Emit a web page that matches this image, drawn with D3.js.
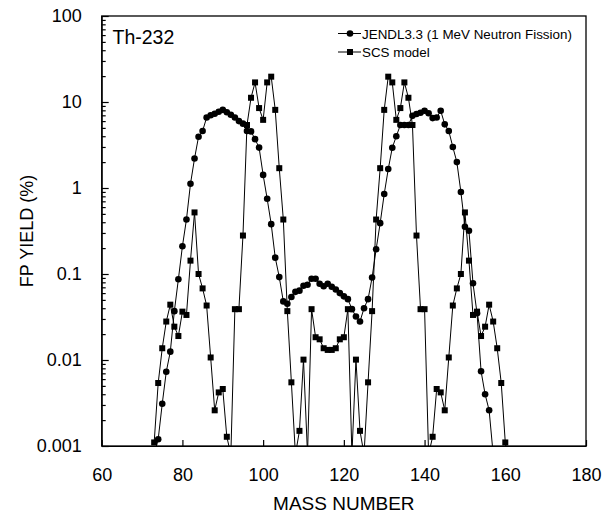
<!DOCTYPE html>
<html>
<head>
<meta charset="utf-8">
<script src="https://cdn.jsdelivr.net/npm/d3@7"></script>
<style>
    body { margin: 0; background: #fff; }
    text { font-family: "Liberation Sans", Arial, sans-serif; }
</style>
</head>
<body>
<div id="chart"></div>
<script>
// FP yield data, one value per mass number. 0.0008 = below the plot bottom.
const jendlStart = 73;
const jendlYield = [
    0.0008, 0.0012, 0.0031, 0.0073, 0.0125, 0.037, 0.087, 0.21, 0.43, 1.12,
    2.2, 3.95, 4.6, 6.6, 7.0, 7.3, 7.7, 8.1, 7.6, 7.1,
    6.6, 6.0, 5.6, 4.6, 4.55, 3.7, 2.95, 1.42, 0.75, 0.38,
    0.155, 0.092, 0.048, 0.045, 0.054, 0.062, 0.064, 0.073, 0.075, 0.088,
    0.088, 0.077, 0.072, 0.077, 0.071, 0.066, 0.060, 0.055, 0.051, 0.039,
    0.032, 0.028, 0.040, 0.051, 0.091, 0.194, 0.39, 0.85, 1.66, 2.94,
    4.0, 5.4, 5.4, 5.4, 6.9, 7.25, 7.5, 7.9, 7.4, 6.5,
    6.6, 7.9, 5.5, 4.6, 3.0, 2.0, 0.90, 0.355, 0.318, 0.078,
    0.035, 0.0074, 0.0040, 0.0026, 0.0008
];

const scsStart = 73;
const scsYield = [
    0.0011, 0.0054, 0.0137, 0.028, 0.044, 0.0244, 0.019, 0.0365, 0.0334, 0.143,
    0.52, 0.10, 0.068, 0.043, 0.0107, 0.0026, 0.0042, 0.0046, 0.00128, 0.0008,
    0.039, 0.039, 0.28, 5.4, 11.2, 16.9, 8.5, 6.2, 16.9, 19.7,
    8.1, 1.7, 0.43, 0.037, 0.0055, 0.0008, 0.0015, 0.0101, 0.0008, 0.039,
    0.0184, 0.0174, 0.0137, 0.0131, 0.0131, 0.0137, 0.0174, 0.0184, 0.039, 0.0008,
    0.0101, 0.0015, 0.0008, 0.0055, 0.037, 0.43, 1.7, 8.1, 19.7, 16.9,
    6.2, 8.5, 16.9, 11.2, 5.4, 0.28, 0.039, 0.039, 0.0008, 0.00128,
    0.0046, 0.0042, 0.0026, 0.0107, 0.043, 0.068, 0.10, 0.52, 0.143, 0.0334,
    0.0365, 0.019, 0.0244, 0.044, 0.028, 0.0137, 0.0054, 0.0011
];

const xTicks = [60, 80, 100, 120, 140, 160, 180];
const yTicks = [0.001, 0.01, 0.1, 1, 10, 100];
const yTickLabels = ["0.001", "0.01", "0.1", "1", "10", "100"];

const seriesNames = ["JENDL3.3 (1 MeV Neutron Fission)", "SCS model"];
const nuclide = "Th-232";

// Pairs of [mass, yield]
const jendl = jendlYield.map((v, i) => [jendlStart + i, v]);
const scs = scsYield.map((v, i) => [scsStart + i, v]);

// Canvas and plot box.
const w = 607, h = 517;
const plotLeft = 101.7, plotRight = 586, plotTop = 16, plotBottom = 446;

const xScale = d3.scaleLinear().domain([60, 180]).range([plotLeft, plotRight]);
const yScale = d3.scaleLog().domain([0.001, 100]).range([plotBottom, plotTop]);

const svg = d3.select("#chart")
    .append("svg")
    .attr("width", w)
    .attr("height", h);

svg.append("clipPath")
    .attr("id", "plot-clip")
    .append("rect")
    .attr("x", plotLeft)
    .attr("y", plotTop)
    .attr("width", plotRight - plotLeft)
    .attr("height", plotBottom - plotTop);

const fontSize = 18;

// x axis, ticks point into the plot
const xAxis = d3.axisBottom(xScale)
    .tickValues(xTicks)
    .tickFormat(d3.format("d"))
    .tickSizeInner(-6)
    .tickSizeOuter(0)
    .tickPadding(22);

svg.append("g")
    .attr("transform", `translate(0, ${plotBottom})`)
    .call(xAxis)
    .call(g => g.selectAll("text").attr("font-size", fontSize).attr("fill", "#000")
        .attr("font-family", "Liberation Sans, Arial, sans-serif"));

// minor log ticks
let yMinor = [];
for (let i = 0; i < yTicks.length - 1; i++) {
    for (let k = 2; k <= 9; k++) yMinor.push(yTicks[i] * k);
}

svg.append("g")
    .attr("transform", `translate(${plotLeft}, 0)`)
    .call(d3.axisLeft(yScale).tickValues(yMinor).tickFormat("").tickSizeInner(-4).tickSizeOuter(0))
    .call(g => g.select(".domain").remove());

const yAxis = d3.axisLeft(yScale)
    .tickValues(yTicks)
    .tickFormat((d, i) => yTickLabels[i])
    .tickSizeInner(-7)
    .tickSizeOuter(0)
    .tickPadding(20);

svg.append("g")
    .attr("transform", `translate(${plotLeft}, 0)`)
    .call(yAxis)
    .call(g => g.selectAll("text").attr("font-size", fontSize).attr("fill", "#000")
        .attr("font-family", "Liberation Sans, Arial, sans-serif"));

svg.selectAll(".tick line").attr("stroke", "#000").attr("stroke-width", 1.2);

// frame round the plot
svg.append("rect")
    .attr("x", plotLeft)
    .attr("y", plotTop)
    .attr("width", plotRight - plotLeft)
    .attr("height", plotBottom - plotTop)
    .attr("fill", "none")
    .attr("stroke", "#000")
    .attr("stroke-width", 1.3);

// Lines and markers
const line = d3.line()
    .x(d => xScale(d[0]))
    .y(d => yScale(d[1]));

const plot = svg.append("g").attr("clip-path", "url(#plot-clip)");

plot.append("path")
    .datum(jendl)
    .attr("d", line)
    .attr("fill", "none")
    .attr("stroke", "#000")
    .attr("stroke-width", 1);

plot.append("path")
    .datum(scs)
    .attr("d", line)
    .attr("fill", "none")
    .attr("stroke", "#000")
    .attr("stroke-width", 1);

const sq = 6;

plot.selectAll(".scs")
    .data(scs)
    .enter()
    .append("rect")
    .attr("class", "scs")
    .attr("x", d => xScale(d[0]) - sq / 2)
    .attr("y", d => yScale(d[1]) - sq / 2)
    .attr("width", sq)
    .attr("height", sq)
    .attr("fill", "#000");

plot.selectAll(".jendl")
    .data(jendl)
    .enter()
    .append("circle")
    .attr("class", "jendl")
    .attr("cx", d => xScale(d[0]))
    .attr("cy", d => yScale(d[1]))
    .attr("r", 3.3)
    .attr("fill", "#000");

// Legend
const legX = 338, legW = 23;
const legRows = [33.5, 52];

legRows.forEach((ly, i) => {
    svg.append("line")
        .attr("x1", legX).attr("x2", legX + legW)
        .attr("y1", ly).attr("y2", ly)
        .attr("stroke", "#000").attr("stroke-width", 1);
    if (i === 0) {
        svg.append("circle").attr("cx", legX + 12).attr("cy", ly).attr("r", 3.3).attr("fill", "#000");
    } else {
        svg.append("rect").attr("x", legX + 12 - sq / 2).attr("y", ly - sq / 2)
            .attr("width", sq).attr("height", sq).attr("fill", "#000");
    }
    svg.append("text")
        .attr("x", legX + legW + 1)
        .attr("y", ly + 5)
        .attr("font-size", 13.4)
        .text(seriesNames[i]);
});

// Nuclide label
svg.append("text")
    .attr("x", 112.5)
    .attr("y", 44.3)
    .attr("font-size", 19.5)
    .text(nuclide);

// Axis titles
svg.append("text")
    .attr("x", (plotLeft + plotRight) / 2)
    .attr("y", 510)
    .attr("text-anchor", "middle")
    .attr("font-size", 19)
    .text("MASS NUMBER");

svg.append("text")
    .attr("transform", `translate(33, ${(plotTop + plotBottom) / 2}) rotate(-90)`)
    .attr("text-anchor", "middle")
    .attr("font-size", 18)
    .text("FP YIELD (%)");
</script>
</body>
</html>
